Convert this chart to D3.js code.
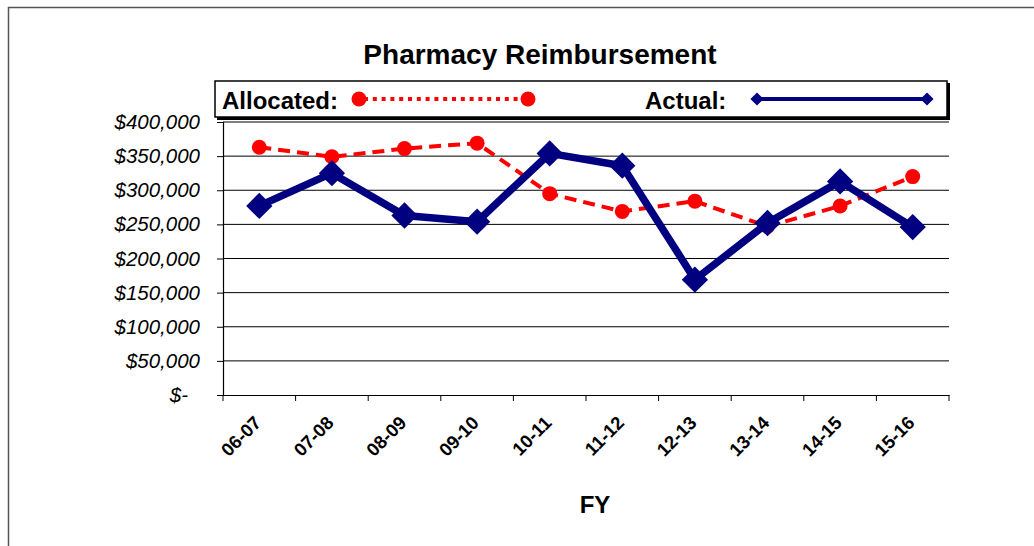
<!DOCTYPE html>
<html lang="en">
<head>
<meta charset="UTF-8" />
<title>Pharmacy Reimbursement</title>
<script src="https://d3js.org/d3.v7.min.js"></script>
<style>
  body { margin: 0; background: #fff; }
  svg { display: block; font-family: "Liberation Sans", Arial, sans-serif; }
</style>
</head>
<body>
<svg id="chart" width="1034" height="546"></svg>
<script>
// data
const years = ['06-07', '07-08', '08-09', '09-10', '10-11', '11-12', '12-13', '13-14', '14-15', '15-16']
const allocated = [363000, 349000, 361000, 369000, 295000, 269000, 284000, 247000, 277000, 320000]
const actual = [277000, 325000, 263000, 254000, 354000, 336000, 169000, 252000, 313000, 246000]
const yTicks = [0, 50000, 100000, 150000, 200000, 250000, 300000, 350000, 400000]

const svg = d3.select('#chart')

// outer chart border
svg.append('path')
  .attr('d', 'M8.5,546 V7.5 H1034')
  .attr('fill', 'none').attr('stroke', '#555').attr('stroke-width', 1.5)

const plotLeft = 223, plotRight = 949, plotTop = 122, plotBottom = 395

const x = d3.scaleBand().domain(years).range([plotLeft, plotRight])
const y = d3.scaleLinear().domain([0, 400000]).range([plotBottom, plotTop])
const cx = d => x(d) + x.bandwidth() / 2

// gridlines
svg.append('g')
  .selectAll('line')
  .data(yTicks.slice(1))
  .enter().append('line')
  .attr('x1', plotLeft).attr('x2', plotRight)
  .attr('y1', d => y(d)).attr('y2', d => y(d))
  .attr('stroke', '#000').attr('stroke-width', 1)

// y axis
const yAxis = svg.append('g')
  .attr('transform', `translate(${plotLeft},0)`)
  .call(d3.axisLeft(y).tickValues(yTicks).tickSize(6).tickPadding(17)
    .tickFormat(d => d === 0 ? '$-' : '$' + d3.format(',')(d)))
yAxis.select('.domain').attr('stroke', '#000').attr('stroke-width', 1.2)
yAxis.selectAll('.tick line').attr('stroke', '#000')
yAxis.selectAll('text')
  .attr('fill', '#000')
  .style('font-size', '20.5px').style('font-style', 'italic')
  .attr('dx', d => d === 0 ? -12 : 0)

// x axis
const xAxis = svg.append('g')
  .attr('transform', `translate(0,${plotBottom})`)
  .call(d3.axisBottom(x).tickSize(0).tickFormat(''))
xAxis.select('.domain').attr('stroke', '#000').attr('stroke-width', 1.2)
svg.append('g')
  .selectAll('line')
  .data(years.concat(['end']))
  .enter().append('line')
  .attr('x1', (d, i) => plotLeft + i * x.bandwidth())
  .attr('x2', (d, i) => plotLeft + i * x.bandwidth())
  .attr('y1', plotBottom).attr('y2', plotBottom + 6)
  .attr('stroke', '#000')
svg.append('g')
  .selectAll('text')
  .data(years)
  .enter().append('text')
  .attr('transform', d => `translate(${cx(d) + 3},${plotBottom + 29}) rotate(-45)`)
  .attr('text-anchor', 'end')
  .attr('font-size', 18.5).attr('font-weight', 'bold')
  .text(d => d)

// axis title
svg.append('text')
  .attr('x', 595).attr('y', 513)
  .attr('text-anchor', 'middle')
  .attr('font-size', 24).attr('font-weight', 'bold')
  .text('FY')

// allocated series
svg.append('path')
  .datum(allocated)
  .attr('d', d3.line().x((d, i) => cx(years[i])).y(d => y(d)))
  .attr('fill', 'none').attr('stroke', '#ff0000')
  .attr('stroke-width', 4).attr('stroke-dasharray', '12,7')
svg.append('g')
  .selectAll('circle')
  .data(allocated)
  .enter().append('circle')
  .attr('cx', (d, i) => cx(years[i])).attr('cy', d => y(d))
  .attr('r', 7.5).attr('fill', '#ff0000')

// actual series
const diamond = d3.symbol().type(d3.symbolDiamond2).size(440)
svg.append('path')
  .datum(actual)
  .attr('d', d3.line().x((d, i) => cx(years[i])).y(d => y(d)))
  .attr('fill', 'none').attr('stroke', '#000080')
  .attr('stroke-width', 7.5).attr('stroke-linejoin', 'round')
svg.append('g')
  .selectAll('path')
  .data(actual)
  .enter().append('path')
  .attr('d', diamond)
  .attr('transform', (d, i) => `translate(${cx(years[i])},${y(d)})`)
  .attr('fill', '#000080')

// title
svg.append('text')
  .attr('x', 540).attr('y', 64)
  .attr('text-anchor', 'middle')
  .attr('font-size', 28).attr('font-weight', 'bold')
  .text('Pharmacy Reimbursement')

// legend box with shadow
svg.append('rect')
  .attr('x', 217).attr('y', 83).attr('width', 733).attr('height', 37)
  .attr('fill', '#000')
svg.append('rect')
  .attr('x', 215).attr('y', 81).attr('width', 732).attr('height', 36)
  .attr('fill', '#fff').attr('stroke', '#000').attr('stroke-width', 1.5)

const legY = 99
svg.append('text')
  .attr('x', 222).attr('y', legY + 10)
  .attr('font-size', 24).attr('font-weight', 'bold')
  .text('Allocated:')
svg.append('line')
  .attr('x1', 364).attr('x2', 524).attr('y1', legY).attr('y2', legY)
  .attr('stroke', '#ff0000').attr('stroke-width', 4).attr('stroke-dasharray', '4,4.8')
svg.append('g')
  .selectAll('circle')
  .data([359, 528])
  .enter().append('circle')
  .attr('cx', d => d).attr('cy', legY).attr('r', 7.5).attr('fill', '#ff0000')

svg.append('text')
  .attr('x', 645).attr('y', legY + 10)
  .attr('font-size', 24).attr('font-weight', 'bold')
  .text('Actual:')
svg.append('line')
  .attr('x1', 757).attr('x2', 927).attr('y1', legY).attr('y2', legY)
  .attr('stroke', '#000080').attr('stroke-width', 4)
svg.append('g')
  .selectAll('path')
  .data([757, 927])
  .enter().append('path')
  .attr('d', d3.symbol().type(d3.symbolDiamond2).size(110))
  .attr('transform', d => `translate(${d},${legY})`)
  .attr('fill', '#000080')
</script>
</body>
</html>
